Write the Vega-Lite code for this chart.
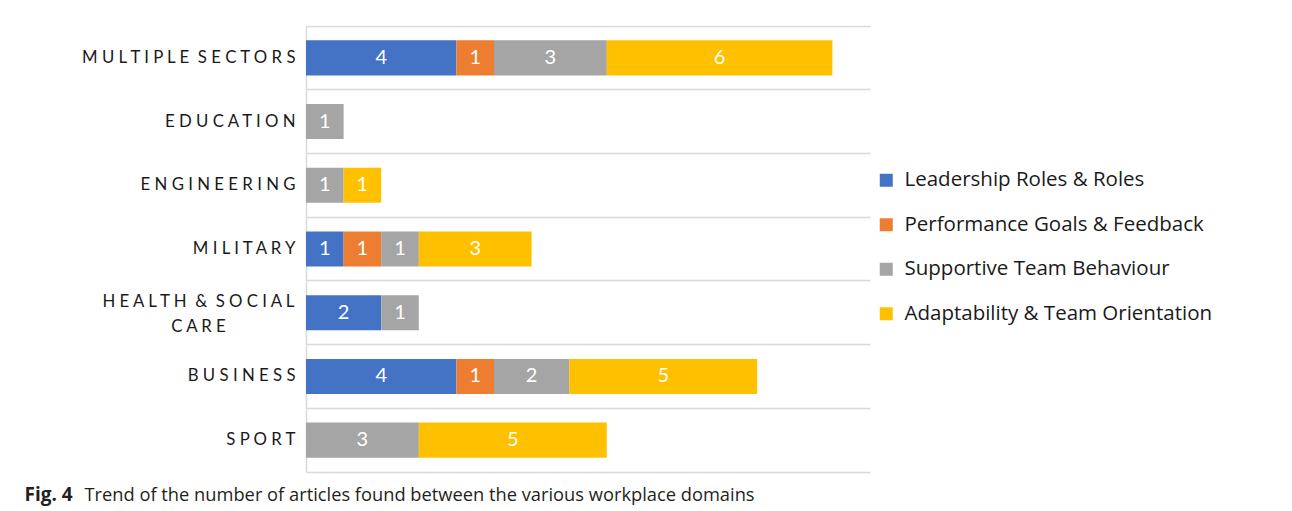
{
  "$schema": "https://vega.github.io/schema/vega-lite/v6.json",
  "width": 564,
  "height": 446,
  "autosize": "none",
  "padding": {"left": 306, "top": 26, "right": 422, "bottom": 39},
  "background": "white",
  "config": {
    "view": {"stroke": null},
    "font": "Lato"
  },
  "data": {
    "values": [
      {"domain": "MULTIPLE SECTORS", "theme": "Leadership Roles & Roles", "count": 4},
      {"domain": "MULTIPLE SECTORS", "theme": "Performance Goals & Feedback", "count": 1},
      {"domain": "MULTIPLE SECTORS", "theme": "Supportive Team Behaviour", "count": 3},
      {"domain": "MULTIPLE SECTORS", "theme": "Adaptability & Team Orientation", "count": 6},
      {"domain": "EDUCATION", "theme": "Supportive Team Behaviour", "count": 1},
      {"domain": "ENGINEERING", "theme": "Supportive Team Behaviour", "count": 1},
      {"domain": "ENGINEERING", "theme": "Adaptability & Team Orientation", "count": 1},
      {"domain": "MILITARY", "theme": "Leadership Roles & Roles", "count": 1},
      {"domain": "MILITARY", "theme": "Performance Goals & Feedback", "count": 1},
      {"domain": "MILITARY", "theme": "Supportive Team Behaviour", "count": 1},
      {"domain": "MILITARY", "theme": "Adaptability & Team Orientation", "count": 3},
      {"domain": "HEALTH & SOCIAL CARE", "theme": "Leadership Roles & Roles", "count": 2},
      {"domain": "HEALTH & SOCIAL CARE", "theme": "Supportive Team Behaviour", "count": 1},
      {"domain": "BUSINESS", "theme": "Leadership Roles & Roles", "count": 4},
      {"domain": "BUSINESS", "theme": "Performance Goals & Feedback", "count": 1},
      {"domain": "BUSINESS", "theme": "Supportive Team Behaviour", "count": 2},
      {"domain": "BUSINESS", "theme": "Adaptability & Team Orientation", "count": 5},
      {"domain": "SPORT", "theme": "Supportive Team Behaviour", "count": 3},
      {"domain": "SPORT", "theme": "Adaptability & Team Orientation", "count": 5}
    ]
  },
  "transform": [
    {"calculate": "indexof(['Leadership Roles & Roles', 'Performance Goals & Feedback', 'Supportive Team Behaviour', 'Adaptability & Team Orientation'], datum.theme)", "as": "stackOrder"}
  ],
  "encoding": {
    "y": {
      "field": "domain",
      "type": "nominal",
      "sort": ["MULTIPLE SECTORS", "EDUCATION", "ENGINEERING", "MILITARY", "HEALTH & SOCIAL CARE", "BUSINESS", "SPORT"],
      "scale": {"paddingInner": 0, "paddingOuter": 0},
      "axis": {
        "title": "Fig. 4",
        "titleAngle": 0,
        "titleX": -282,
        "titleY": 474,
        "titleAlign": "left",
        "titleBaseline": "alphabetic",
        "titleFont": "Open Sans",
        "titleFontSize": 19,
        "titleFontWeight": "bold",
        "titleColor": "#231f20",
        "grid": true,
        "bandPosition": 0,
        "gridColor": "#d9d9d9",
        "gridWidth": 1.5,
        "domainColor": "#d9d9d9",
        "domainWidth": 1.5,
        "ticks": false,
        "labelFontSize": 16.8,
        "labelColor": "#1a1a1a",
        "labelLimit": 400,
        "labelLineHeight": 25,
        "labelAlign": {"condition": {"test": "datum.value === 'HEALTH & SOCIAL CARE'", "value": "center"}, "value": "right"},
        "labelPadding": {"condition": {"test": "datum.value === 'HEALTH & SOCIAL CARE'", "value": 108}, "value": 11},
        "labelOffset": {"condition": {"test": "datum.value === 'HEALTH & SOCIAL CARE'", "value": -10.5}, "value": 0},
        "labelExpr": "datum.label === 'HEALTH & SOCIAL CARE' ? ['H\u00a0E\u00a0A\u00a0L\u00a0T\u00a0H\u00a0\u00a0&\u00a0\u00a0S\u00a0O\u00a0C\u00a0I\u00a0A\u00a0L', 'C\u00a0A\u00a0R\u00a0E'] : replace(replace(datum.label, regexp(' ', 'g'), '\u00a0'), regexp('([A-Z&])', 'g'), '$1\u00a0')"
      }
    }
  },
  "layer": [
    {
      "mark": {"type": "bar", "height": {"band": 0.55}},
      "encoding": {
        "x": {
          "field": "count",
          "type": "quantitative",
          "stack": "zero",
          "scale": {"domain": [0, 15], "nice": false},
          "axis": {
            "title": "Trend of the number of articles found between the various workplace domains",
            "titleX": -222,
            "titleY": 28,
            "titleAlign": "left",
            "titleAnchor": "start",
            "titleBaseline": "alphabetic",
            "titleFont": "Open Sans",
            "titleFontSize": 18.3,
            "titleFontWeight": "normal",
            "titleColor": "#231f20",
            "labels": false,
            "ticks": false,
            "grid": false,
            "domainColor": "#d9d9d9",
            "domainWidth": 1.5
          }
        },
        "color": {
          "field": "theme",
          "type": "nominal",
          "scale": {
            "domain": ["Leadership Roles & Roles", "Performance Goals & Feedback", "Supportive Team Behaviour", "Adaptability & Team Orientation"],
            "range": ["#4472c4", "#ed7d31", "#a5a5a5", "#ffc000"]
          },
          "legend": {
            "title": null,
            "orient": "none",
            "legendX": 570,
            "legendY": 144,
            "padding": 0,
            "symbolType": "square",
            "symbolSize": 169,
            "symbolStrokeWidth": 0,
            "labelFont": "Open Sans",
            "labelFontSize": 20.5,
            "labelColor": "#1a1a1a",
            "labelLimit": 400,
            "labelOffset": 8,
            "rowPadding": 23.5
          }
        },
        "order": {"field": "stackOrder", "type": "quantitative"}
      }
    },
    {
      "mark": {"type": "text", "color": "white", "fontSize": 20},
      "encoding": {
        "x": {"field": "count", "type": "quantitative", "stack": "zero", "bandPosition": 0.5},
        "detail": {"field": "theme"},
        "order": {"field": "stackOrder", "type": "quantitative"},
        "text": {"field": "count", "type": "quantitative"}
      }
    }
  ]
}
